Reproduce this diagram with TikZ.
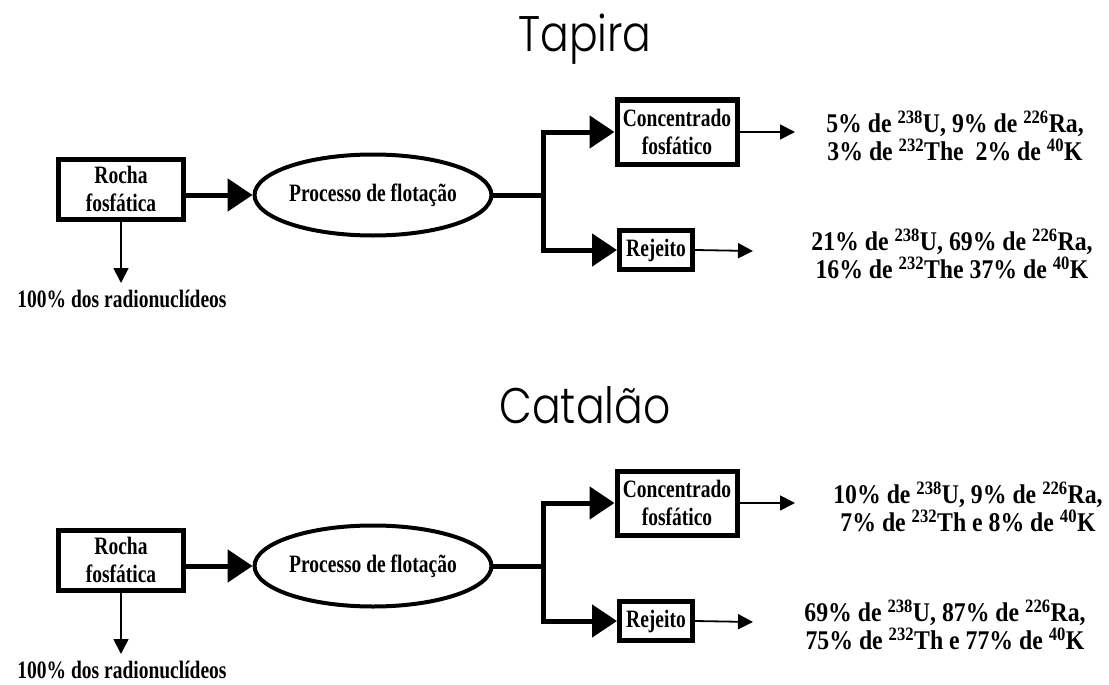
\documentclass[tikz,border=0pt]{standalone}
\usepackage{fontspec}
\setmainfont{Liberation Serif}
\newfontfamily\boxFont{Liberation Serif}[FakeStretch=0.78]
\newfontfamily\percentFont{Liberation Serif}[FakeStretch=0.88]
\newfontfamily\titleFont{Poppins Light}[FakeStretch=0.85]
\usetikzlibrary{shapes.geometric, arrows.meta}
\tikzstyle{sheet} = [x = 1pt, y = -1pt]
\tikzstyle{boxStyle} = [draw, line width = 5pt, align = center, inner sep = 0pt,
  font = \boxFont\bfseries\fontsize{25}{28}\selectfont]
\tikzstyle{flotationStyle} = [boxStyle, ellipse, line width = 4pt]
\tikzstyle{thickLine} = [line width = 5pt]
\tikzstyle{thickArrow} = [thickLine, -{Triangle[length = 25pt, width = 32pt]}]
\tikzstyle{thinArrow} = [line width = 1.8pt, -{Triangle[length = 15pt, width = 15pt]}]
\tikzstyle{percentText} = [align = center, inner sep = 0pt,
  font = \percentFont\bfseries\fontsize{27}{28}\selectfont]
\tikzstyle{totalText} = [inner sep = 0pt, font = \boxFont\bfseries\fontsize{25}{28}\selectfont]
\tikzstyle{titleText} = [anchor = base, inner sep = 0pt, font = \titleFont\fontsize{50}{56}\selectfont]
\newcommand{\isotope}[2]{\textsuperscript{#1}#2}
% #1 name, #2 vertical offset, #3 title, #4 concentrado text, #5 its x, #6 rejeito text, #7 its x
\newcommand{\flowChart}[7]{
  \node [titleText] (#1-title) at (585, 52 + #2) {#3};
  \node [boxStyle, minimum width = 125pt, minimum height = 60pt] (#1-rocha) at (121, 189 + #2) {Rocha\\fosfática};
  \node [flotationStyle, minimum width = 206pt, minimum height = 81pt] (#1-flot) at (373, 195 + #2) {Processo de flotação};
  \node [boxStyle, minimum width = 120pt, minimum height = 64pt] (#1-conc) at (677, 132 + #2) {Concentrado\\fosfático};
  \node [boxStyle, minimum width = 73pt, minimum height = 39pt] (#1-rej) at (656, 250 + #2) {Rejeito};
  \coordinate (#1-split) at (543, 195 + #2);
  \coordinate (#1-down) at (121, 283 + #2);
  \coordinate (#1-concEnd) at (795, 132 + #2);
  \coordinate (#1-rejEnd) at (753, 251 + #2);
  \node [totalText] (#1-total) at (122, 299 + #2) {100\% dos radionuclídeos};
  \node [percentText] (#1-concText) at (#5, 136 + #2) {#4};
  \node [percentText] (#1-rejText) at (#7, 254 + #2) {#6};
  \draw [thickArrow] (#1-rocha.east |- #1-flot.west) -- (#1-flot.west);
  \draw [thickLine] (#1-flot.east) -- (#1-split);
  \draw [thickArrow] (#1-split) |- (#1-conc.west);
  \draw [thickArrow] (#1-split) |- (#1-rej.west);
  \draw [thinArrow] (#1-rocha.south) -- (#1-down);
  \draw [thinArrow] (#1-conc.east) -- (#1-concEnd);
  \draw [thinArrow] (#1-rej.east) -- (#1-rejEnd);
}
\begin{document}
\begin{tikzpicture}[sheet]
  \useasboundingbox (0, 0) rectangle (1109, 685);
  \flowChart{tapira}{0}{Tapira}
    {5\% de \isotope{238}{U}, 9\% de \isotope{226}{Ra},\\3\% de \isotope{232}{The}\ \ 2\% de \isotope{40}{K}}{955}
    {21\% de \isotope{238}{U}, 69\% de \isotope{226}{Ra},\\16\% de \isotope{232}{The} 37\% de \isotope{40}{K}}{952}
  \flowChart{catalao}{371}{Catalão}
    {10\% de \isotope{238}{U}, 9\% de \isotope{226}{Ra},\\7\% de \isotope{232}{Th} e 8\% de \isotope{40}{K}}{968}
    {69\% de \isotope{238}{U}, 87\% de \isotope{226}{Ra},\\75\% de \isotope{232}{Th} e 77\% de \isotope{40}{K}}{945}
\end{tikzpicture}
\end{document}
